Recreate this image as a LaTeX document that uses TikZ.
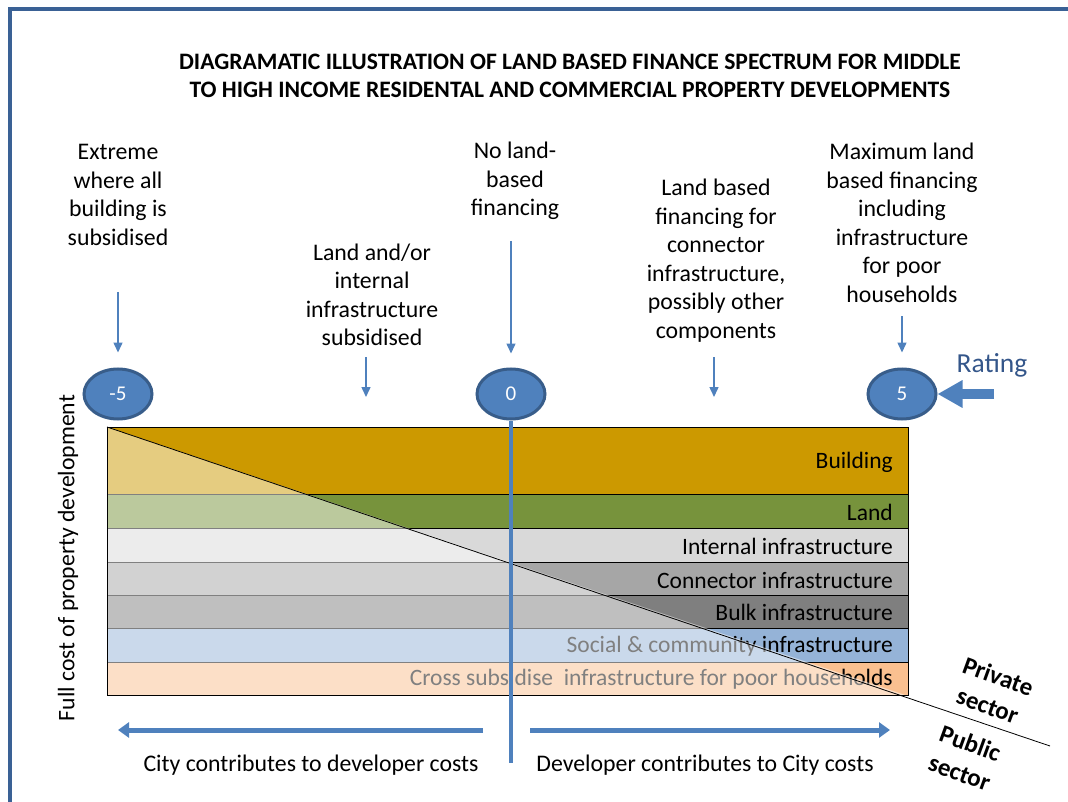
\documentclass[tikz,border=0pt]{standalone}
\usepackage{fontspec}
\setmainfont{Carlito}
\usetikzlibrary{positioning,shapes.geometric,arrows.meta}

\definecolor{framecol}{HTML}{3A6195}
\definecolor{ratingblue}{HTML}{4F81BD}
\definecolor{ratingedge}{HTML}{385D8A}
\definecolor{ratingtext}{HTML}{34568A}
\definecolor{buildcol}{HTML}{CC9900}
\definecolor{landcol}{HTML}{77933C}
\definecolor{internalcol}{HTML}{D9D9D9}
\definecolor{connectcol}{HTML}{A6A6A6}
\definecolor{bulkcol}{HTML}{7F7F7F}
\definecolor{socialcol}{HTML}{95B3D7}
\definecolor{crosscol}{HTML}{FAC090}

\begin{document}
\begin{tikzpicture}[x=1pt, y=-1pt,
				rating/.style={ellipse, draw=ratingedge, line width=3pt, fill=ratingblue, minimum width=68pt, minimum height=50pt, inner sep=0pt, text=white, font=\fontsize{21}{23}\selectfont},
				note/.style={align=center, font=\fontsize{23.8}{28.5}\selectfont},
				bandlabel/.style={anchor=east, inner sep=0pt, font=\fontsize{23.5}{27}\selectfont},
				pointer/.style={draw=ratingblue, line width=1.5pt, -{Triangle[width=9pt,length=10pt]}},
				side/.style={draw=ratingblue, line width=5pt, -{Triangle[width=15pt,length=11pt]}},
				sector/.style={align=center, rotate=-20, inner sep=1pt, font=\bfseries\fontsize{25}{31}\selectfont}
			]
			\useasboundingbox (0,0) rectangle (1068,802);
			\draw[framecol, line width=4pt] (9.5,802) -- (9.5,9.5) -- (1068,9.5);
			\node[align=center, font=\bfseries\fontsize{23.6}{28}\selectfont] (title) at (570,76) {DIAGRAMATIC ILLUSTRATION OF LAND BASED FINANCE SPECTRUM FOR MIDDLE\\TO HIGH INCOME RESIDENTAL AND COMMERCIAL PROPERTY DEVELOPMENTS};
			% notes above the scale
			\node[note] (extreme) at (118,195) {Extreme\\where all\\building is\\subsidised};
			\node[note] (landint) at (372,295) {Land and/or\\internal\\infrastructure\\subsidised};
			\node[note] (noland) at (515,181) {No land-\\based\\financing};
			\node[note] (connector) at (716,260.5) {Land based\\financing for\\connector\\infrastructure,\\possibly other\\components};
			\node[note] (maximum) at (902,223) {Maximum land\\based financing\\including\\infrastructure\\for poor\\households};
			% rating scale
			\node[rating] (m5) at (118,394) {-5};
			\node[rating] (zero) at (511,394) {0};
			\node[rating] (p5) at (902,394) {5};
			\node[font=\fontsize{27.5}{30}\selectfont, text=ratingtext] (ratinglabel) at (992,365) {Rating};
			\coordinate (ratingtail) at (994,394);
			\draw[ratingblue, line width=10pt, -{Triangle[width=26pt,length=25pt]}] (ratingtail) -- (p5);
			\coordinate (extremefrom) at (118,292);
			\coordinate (landintfrom) at (366,357);
			\coordinate (landintto) at (366,397);
			\coordinate (nolandfrom) at (511,241);
			\coordinate (connectorfrom) at (714,357);
			\coordinate (connectorto) at (714,397);
			\coordinate (maximumfrom) at (902,316);
			\begin{scope}
			\draw[pointer, shorten >=15pt] (extremefrom) -- (m5);
			\draw[pointer] (landintfrom) -- (landintto);
			\draw[pointer, shorten >=14pt] (nolandfrom) -- (zero);
			\draw[pointer] (connectorfrom) -- (connectorto);
			\draw[pointer, shorten >=15pt] (maximumfrom) -- (p5);
			\end{scope}
			% cost bands
			\fill[buildcol] (107,427) rectangle (908,494);
			\fill[landcol] (107,494) rectangle (908,528);
			\fill[internalcol] (107,528) rectangle (908,562);
			\fill[connectcol] (107,562) rectangle (908,595);
			\fill[bulkcol] (107,595) rectangle (908,628);
			\fill[socialcol] (107,628) rectangle (908,662);
			\fill[crosscol] (107,662) rectangle (908,695);
			\draw[line width=0.8pt] (107,494) -- (908,494) (107,528) -- (908,528) (107,562) -- (908,562)
				(107,595) -- (908,595) (107,628) -- (908,628) (107,662) -- (908,662);
			\node[bandlabel] (buildinglabel) at (893,462) {Building};
			\node[bandlabel] (landlabel) at (893,512) {Land};
			\node[bandlabel] (internallabel) at (893,546) {Internal infrastructure};
			\node[bandlabel] (connectorlabel) at (893,580) {Connector infrastructure};
			\node[bandlabel] (bulklabel) at (893,612) {Bulk infrastructure};
			\node[bandlabel] (sociallabel) at (893,646) {Social \& community infrastructure};
			\node[bandlabel] (crosslabel) at (893,679) {Cross subsidise\ \ infrastructure for poor households};
			% public share
			\fill[white, opacity=0.5] (107,427) -- (908,696) -- (107,695) -- cycle;
			\draw[line width=1pt] (107,427) rectangle (908,695);
			\coordinate (divtop) at (107,427);
			\coordinate (divend) at (1050,746);
			\draw[line width=0.8pt] (divtop) -- (divend);
			\node[sector] (privlabel) at (993,691) {Private\\sector};
			\node[sector] (publabel) at (965,758) {Public\\sector};
			% split between city and developer
			\coordinate (splitend) at (511,763);
			\draw[ratingblue, line width=4pt] (zero.south) -- (splitend);
			\coordinate (cityfrom) at (483,730);
			\coordinate (cityto) at (118,730);
			\coordinate (devfrom) at (530,730);
			\coordinate (devto) at (890,730);
			\draw[side] (cityfrom) -- (cityto);
			\draw[side] (devfrom) -- (devto);
			\node[font=\fontsize{23.8}{27}\selectfont] (citylabel) at (311,765) {City contributes to developer costs};
			\node[font=\fontsize{23.8}{27}\selectfont] (devlabel) at (705,765) {Developer contributes to City costs};
			\node[rotate=90, font=\fontsize{23.7}{27}\selectfont] (costaxis) at (68,558) {Full cost of property development};
			\end{tikzpicture}
\end{document}
